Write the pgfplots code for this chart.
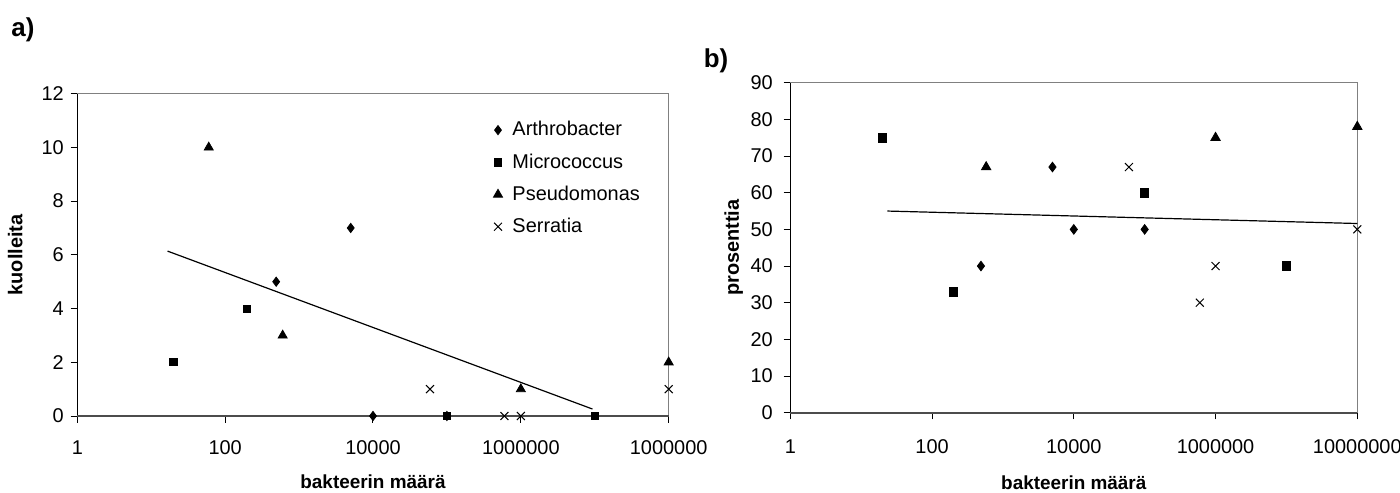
\documentclass[border=0pt]{standalone}
\usepackage{pgfplots}
\pgfplotsset{compat=1.18}
\usepackage{fontspec}
\setmainfont{Liberation Sans}
\begin{document}
\begin{tikzpicture}
\path[use as bounding box] (0bp,0bp) rectangle (700bp,246.5bp);
% ---------- panel a ----------
\begin{axis}[at={(38.65bp,38.5bp)}, anchor=south west,
  scale only axis, width=295.7bp, height=161.15bp,
  xmode=log, log basis x=10, xmin=1, xmax=1e8,
  xtick={1,100,10000,1000000,100000000},
  minor xtick={},
  axis line style={draw=none},
  tick style={black, line width=0.5bp},
  tick align=outside, xtick pos=bottom, ytick pos=left,
  major tick length=3.3bp,
  clip=false,
  ticklabel style={font=\fontsize{10}{12}\selectfont},
  xticklabel style={yshift=-5.5bp},
  /pgf/number format/assume math mode=true,
  ymin=0, ymax=12, ytick={0,2,...,12},
  xticklabels={1,100,10000,1000000,1000000},
  xlabel={bakteerin määrä}, ylabel={kuolleita},
  x label style={at={(axis description cs:0.5,-0.205)}, anchor=center, font=\bfseries\fontsize{9.5}{11}\selectfont},
  y label style={at={(axis description cs:-0.105,0.5)}, anchor=center, font=\bfseries\fontsize{10}{12}\selectfont},
  legend style={draw=none, fill=none, at={(rel axis cs:0.693,0.94)}, anchor=north west,
    font=\fontsize{10}{12}\selectfont, row sep=3.4bp},
  legend cell align=left,
  legend image code/.code={\draw[mark repeat=2,mark phase=2,#1] plot coordinates {(0bp,0bp)(3bp,0bp)(6bp,0bp)};},
]
\draw[gray, line width=0.6bp] (rel axis cs:0,1) -- (rel axis cs:1,1) -- (rel axis cs:1,0);
\draw[black, line width=0.6bp] (rel axis cs:0,0) -- (rel axis cs:0,1);
\draw[black!70, line width=1.2bp] (rel axis cs:0,0) -- (rel axis cs:1,0);
\addplot[only marks, mark=diamond*, mark size=2.3bp, black] coordinates {(490,5) (5000,7) (10000,0) (100000,0)};
\addlegendentry{\hspace{3bp}Arthrobacter}
\addplot[only marks, mark=square*, mark size=1.8bp, black] coordinates {(20,2) (195,4) (100000,0) (10000000,0)};
\addlegendentry{\hspace{3bp}Micrococcus}
\addplot[only marks, mark=triangle*, mark size=2.6bp, black] coordinates {(60,10) (600,3) (1000000,1) (100000000,2)};
\addlegendentry{\hspace{3bp}Pseudomonas}
\addplot[only marks, mark=x, mark size=2.8bp, black, mark options={line width=0.5bp}] coordinates {(59000,1) (600000,0) (1000000,0) (100000000,1)};
\addlegendentry{\hspace{3bp}Serratia}
\addplot[black, line width=0.6bp, no marks, forget plot] coordinates {(16.6,6.14) (9300000,0.26)};
\end{axis}
\node[font=\bfseries\fontsize{13}{15}\selectfont] at (11.5bp,231.5bp) {a)};
% ---------- panel b ----------
\begin{axis}[at={(395.15bp,40.15bp)}, anchor=south west,
  scale only axis, width=283.5bp, height=165bp,
  xmode=log, log basis x=10, xmin=1, xmax=1e8,
  xtick={1,100,10000,1000000,100000000},
  minor xtick={},
  axis line style={draw=none},
  tick style={black, line width=0.5bp},
  tick align=outside, xtick pos=bottom, ytick pos=left,
  major tick length=3.3bp,
  clip=false,
  ticklabel style={font=\fontsize{10}{12}\selectfont},
  xticklabel style={yshift=-6.5bp},
  yticklabel style={xshift=-2bp},
  /pgf/number format/assume math mode=true,
  ymin=0, ymax=90, ytick={0,10,...,90},
  xticklabels={1,100,10000,1000000,10000000},
  xlabel={bakteerin määrä}, ylabel={prosenttia},
  x label style={at={(axis description cs:0.5,-0.212)}, anchor=center, font=\bfseries\fontsize{9.5}{11}\selectfont},
  y label style={at={(axis description cs:-0.1,0.5)}, anchor=center, font=\bfseries\fontsize{10}{12}\selectfont},
]
\draw[gray, line width=0.6bp] (rel axis cs:0,1) -- (rel axis cs:1,1) -- (rel axis cs:1,0);
\draw[black, line width=0.6bp] (rel axis cs:0,0) -- (rel axis cs:0,1);
\draw[black!70, line width=1.2bp] (rel axis cs:0,0) -- (rel axis cs:1,0);
\addplot[only marks, mark=diamond*, mark size=2.4bp, black] coordinates {(490,40) (5000,67) (10000,50) (100000,50)};
\addplot[only marks, mark=square*, mark size=2.1bp, black] coordinates {(20,75) (200,33) (100000,60) (10000000,40)};
\addplot[only marks, mark=triangle*, mark size=2.7bp, black] coordinates {(580,67) (1000000,75) (100000000,78)};
\addplot[only marks, mark=x, mark size=2.8bp, black, mark options={line width=0.5bp}] coordinates {(60000,67) (1000000,40) (600000,30) (100000000,50)};
\addplot[black, line width=0.6bp, no marks] coordinates {(23.4,55.0) (100000000,51.6)};
\end{axis}
\node[font=\bfseries\fontsize{13}{15}\selectfont] at (358bp,216bp) {b)};
\end{tikzpicture}
\end{document}
